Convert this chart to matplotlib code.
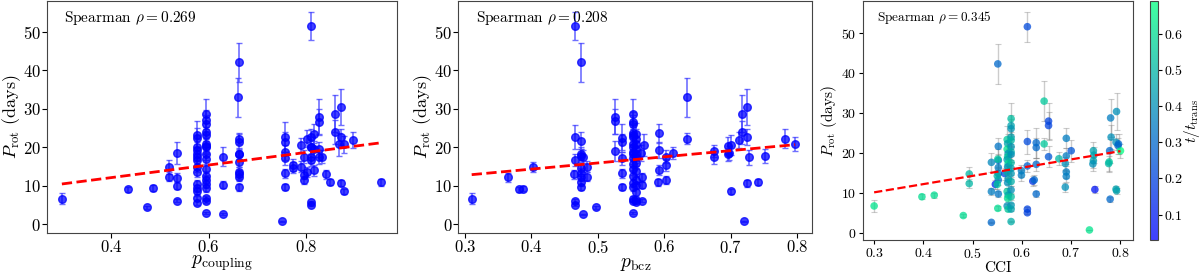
import numpy as np
import matplotlib
matplotlib.use("Agg")
import matplotlib.pyplot as plt

### Data ###
# panel 1: p_coupling vs P_rot
pc_x = [0.298, 0.434, 0.473, 0.486, 0.519, 0.519, 0.534, 0.534, 0.534, 0.534,
        0.577, 0.577, 0.577, 0.577, 0.577, 0.577, 0.577, 0.577, 0.577, 0.577, 0.577, 0.577, 0.577, 0.577,
        0.594, 0.594, 0.594, 0.594, 0.594, 0.594, 0.594, 0.594, 0.594, 0.594, 0.594, 0.594, 0.594, 0.594,
        0.594, 0.594, 0.594, 0.594,
        0.629, 0.629, 0.629, 0.661,
        0.663, 0.663, 0.663, 0.663, 0.663, 0.663, 0.663, 0.663, 0.663, 0.663,
        0.750, 0.758, 0.758, 0.758, 0.758, 0.758, 0.758,
        0.774, 0.774, 0.790, 0.790, 0.796, 0.796, 0.796, 0.802, 0.802,
        0.811, 0.811, 0.811, 0.811, 0.811, 0.811, 0.811, 0.811,
        0.817, 0.817, 0.817, 0.827, 0.827, 0.827, 0.827, 0.833,
        0.841, 0.850, 0.860, 0.860, 0.868, 0.873, 0.873, 0.873, 0.879, 0.879, 0.897, 0.954]
pc_y = [6.7, 9.1, 4.4, 9.4, 14.8, 12.4, 18.6, 12.1, 10.1, 6.2,
        23.3, 22.5, 20.2, 19.3, 18.3, 17.6, 16.7, 15.0, 13.5, 10.5, 9.4, 8.6, 6.9, 5.6,
        28.6, 27.0, 26.0, 24.0, 23.2, 20.8, 20.4, 20.2, 18.3, 16.9, 14.3, 12.7, 11.6, 10.5,
        9.4, 6.9, 6.0, 2.9,
        17.6, 10.3, 2.7, 33.0,
        42.1, 22.3, 21.4, 18.4, 18.2, 16.3, 13.7, 13.0, 12.4, 9.6,
        0.8, 22.7, 21.4, 18.7, 17.2, 13.3, 9.7,
        15.4, 14.7, 20.6, 15.0, 17.6, 12.9, 11.6, 22.3, 13.7,
        51.5, 22.7, 20.2, 20.0, 17.6, 16.8, 5.7, 5.1,
        23.6, 19.6, 14.0, 28.0, 26.6, 19.5, 17.5, 17.6,
        13.0, 11.0, 28.7, 24.0, 20.8, 30.4, 22.7, 10.7, 20.8, 8.6, 21.9, 10.9]
pc_err = [1.5, 0.6, 0.4, 0.8, 1.8, 1.2, 2.8, 1.2, 0.9, 0.5,
          3.5, 2.5, 2.0, 2.0, 1.8, 1.8, 1.6, 1.5, 1.3, 1.0, 0.9, 0.8, 0.6, 0.5,
          3.9, 2.7, 2.5, 2.3, 2.2, 2.0, 2.0, 1.9, 1.7, 1.6, 1.4, 1.2, 1.1, 1.0,
          0.9, 0.6, 0.5, 0.2,
          2.4, 0.9, 0.2, 5.0,
          5.0, 1.5, 2.2, 1.5, 1.5, 1.5, 1.3, 1.2, 1.1, 0.8,
          0.1, 3.8, 2.5, 2.0, 1.7, 1.2, 0.8,
          1.5, 1.4, 1.9, 1.5, 1.6, 1.2, 1.1, 2.3, 1.3,
          3.7, 2.2, 2.0, 2.0, 1.7, 1.6, 0.5, 0.4,
          2.4, 2.0, 1.3, 4.6, 3.3, 2.0, 1.7, 1.7,
          1.2, 0.8, 4.8, 3.0, 3.0, 4.7, 2.0, 0.8, 2.2, 0.6, 2.0, 0.8]
pc_fit = (16.3, 5.64)  # slope, intercept of dashed trend line

# panel 2: p_bcz vs P_rot
pb_x = [0.310, 0.365, 0.381, 0.388, 0.403, 0.464,
        0.466, 0.466, 0.466, 0.466, 0.466, 0.474,
        0.474, 0.474, 0.474, 0.474, 0.474, 0.474, 0.474, 0.474, 0.477,
        0.478, 0.483, 0.483, 0.497,
        0.526, 0.526, 0.526, 0.536, 0.536, 0.536, 0.536, 0.536,
        0.553, 0.553, 0.553, 0.553, 0.553, 0.553, 0.553, 0.553, 0.553, 0.553,
        0.553, 0.553, 0.553, 0.553, 0.553, 0.553, 0.553, 0.553, 0.553,
        0.558, 0.558, 0.558, 0.558, 0.558, 0.558, 0.558, 0.558, 0.558, 0.558,
        0.558, 0.558, 0.558,
        0.566, 0.566, 0.566, 0.565, 0.570,
        0.592, 0.592, 0.592, 0.591, 0.603, 0.603, 0.603, 0.613, 0.634, 0.634,
        0.675, 0.675, 0.696, 0.696, 0.700, 0.698, 0.701, 0.712, 0.717, 0.717,
        0.725, 0.725, 0.725, 0.727, 0.720, 0.741, 0.752, 0.782, 0.797]
pb_y = [6.7, 12.2, 9.1, 9.3, 14.8, 13.0,
        51.5, 22.7, 16.7, 6.0, 5.1, 42.1,
        21.7, 18.4, 17.8, 14.6, 13.3, 12.4, 11.1, 9.7, 2.6,
        17.6, 15.0, 12.4, 4.4,
        28.0, 26.8, 19.0, 22.5, 21.4, 17.2, 13.3, 9.7,
        28.6, 26.6, 26.0, 23.8, 23.2, 22.7, 21.0, 20.2, 18.9, 18.3,
        17.2, 15.6, 14.3, 12.7, 10.7, 9.7, 6.7, 6.2, 2.9,
        23.4, 22.3, 20.8, 19.7, 18.4, 17.6, 15.9, 13.9, 11.6, 10.2,
        8.3, 6.4, 5.7,
        6.2, 12.2, 10.3, 18.5, 20.6,
        23.7, 19.3, 14.2, 10.9, 17.6, 15.4, 11.6, 18.6, 33.0, 22.3,
        19.1, 17.4, 20.4, 18.2, 20.6, 18.6, 8.6, 21.9, 28.7, 23.9,
        30.4, 22.7, 10.7, 17.4, 0.8, 11.0, 17.8, 22.3, 20.8]
pb_err = [1.5, 1.2, 0.6, 0.6, 1.3, 1.2,
          3.7, 3.0, 1.6, 0.5, 0.4, 5.0,
          2.2, 1.7, 1.7, 1.4, 1.3, 1.2, 1.0, 0.8, 0.2,
          1.7, 1.5, 1.1, 0.4,
          4.6, 3.3, 2.6, 3.6, 2.2, 1.7, 1.2, 0.8,
          3.9, 2.7, 2.5, 2.3, 2.2, 2.0, 2.0, 1.9, 1.8, 1.7,
          1.6, 1.5, 1.4, 1.2, 1.0, 0.9, 0.6, 0.5, 0.2,
          3.0, 2.4, 2.0, 1.9, 1.8, 1.7, 1.5, 1.3, 1.1, 0.9,
          0.8, 0.5, 0.5,
          0.5, 1.2, 0.9, 2.0, 2.8,
          2.5, 2.0, 1.3, 0.8, 1.7, 1.5, 1.1, 1.6, 5.0, 1.5,
          1.6, 1.6, 2.2, 1.7, 2.6, 1.8, 0.7, 2.0, 4.8, 3.0,
          4.7, 2.0, 0.9, 2.0, 0.1, 0.8, 1.8, 2.4, 1.8]
pb_fit = (16.0, 7.96)

# panel 3: CCI vs P_rot, coloured by t/t_trans
cc_x = [0.300, 0.397, 0.422, 0.481, 0.493, 0.493,
        0.538, 0.538, 0.538, 0.546, 0.551,
        0.552, 0.552, 0.552, 0.552, 0.552, 0.552,
        0.551, 0.550, 0.550, 0.551, 0.565,
        0.570, 0.571, 0.570, 0.572, 0.571, 0.570, 0.572, 0.571, 0.570, 0.572,
        0.571, 0.570, 0.572, 0.571, 0.570, 0.572,
        0.578, 0.578, 0.578, 0.578, 0.578, 0.578, 0.578, 0.578, 0.578, 0.578,
        0.578, 0.578, 0.578, 0.578, 0.578, 0.578, 0.578,
        0.599, 0.599, 0.611, 0.611, 0.611, 0.611, 0.611, 0.622, 0.625,
        0.629, 0.629, 0.629, 0.629, 0.645, 0.645, 0.654, 0.654, 0.654,
        0.675, 0.690, 0.690, 0.688, 0.690, 0.690, 0.688, 0.700,
        0.737, 0.748, 0.745, 0.746, 0.745, 0.744,
        0.780, 0.781, 0.778, 0.777, 0.776, 0.779,
        0.792, 0.791, 0.795, 0.800, 0.791, 0.792, 0.796]
cc_y = [6.8, 9.1, 9.5, 4.4, 14.8, 12.4,
        17.7, 10.4, 2.7, 12.2, 42.3,
        21.7, 18.2, 16.4, 14.9, 13.3, 9.8,
        18.5, 14.3, 12.2, 6.2, 14.9,
        23.4, 22.4, 21.0, 19.9, 19.1, 18.4, 17.4, 16.6, 15.3, 13.5,
        12.6, 10.4, 9.5, 8.7, 6.8, 6.0,
        28.6, 26.9, 26.1, 24.0, 23.2, 21.6, 20.3, 19.7, 17.6, 16.2,
        14.9, 12.9, 10.8, 9.1, 7.0, 6.0, 2.9,
        15.6, 14.5, 51.6, 22.9, 16.8, 6.0, 5.1, 13.0, 13.3,
        22.6, 21.4, 17.2, 9.8, 33.0, 22.3, 28.0, 26.9, 19.1,
        18.6, 23.7, 19.3, 17.4, 15.3, 14.2, 11.5, 20.6,
        0.8, 10.9, 20.6, 19.5, 18.1, 17.3,
        28.8, 24.0, 20.6, 17.8, 17.4, 8.5,
        30.4, 22.7, 21.9, 20.6, 11.0, 10.6, 22.3]
cc_err = [1.5, 0.6, 0.6, 0.4, 1.8, 1.2,
          2.4, 0.9, 0.2, 1.2, 5.0,
          2.2, 1.7, 1.6, 1.5, 1.3, 0.8,
          2.6, 1.4, 1.1, 0.5, 1.5,
          3.5, 2.5, 2.0, 2.0, 1.9, 1.8, 1.7, 1.6, 1.5, 1.3,
          1.2, 1.0, 0.9, 0.8, 0.6, 0.5,
          3.9, 2.7, 2.5, 2.3, 2.2, 2.0, 2.0, 1.9, 1.7, 1.6,
          1.4, 1.2, 1.0, 0.9, 0.6, 0.5, 0.2,
          1.5, 1.4, 3.7, 3.0, 1.6, 0.5, 0.4, 1.2, 1.2,
          3.8, 2.5, 1.7, 0.8, 5.0, 1.5, 4.6, 3.3, 2.6,
          1.6, 2.5, 2.0, 1.7, 1.5, 1.3, 1.1, 2.8,
          0.1, 0.8, 2.2, 2.0, 1.8, 1.7,
          4.8, 3.0, 3.0, 2.2, 2.0, 0.6,
          4.7, 2.0, 2.0, 1.8, 0.8, 0.8, 2.4]
cc_t = [0.62, 0.60, 0.60, 0.60, 0.50, 0.50,
        0.38, 0.35, 0.30, 0.12, 0.30,
        0.33, 0.30, 0.35, 0.35, 0.33, 0.33,
        0.55, 0.50, 0.55, 0.60, 0.22,
        0.55, 0.45, 0.60, 0.40, 0.55, 0.45, 0.60, 0.40, 0.50, 0.45,
        0.40, 0.55, 0.45, 0.60, 0.40, 0.55,
        0.52, 0.45, 0.42, 0.45, 0.50, 0.42, 0.48, 0.40, 0.50, 0.45,
        0.42, 0.48, 0.40, 0.52, 0.42, 0.45, 0.48,
        0.35, 0.35, 0.22, 0.22, 0.28, 0.20, 0.20, 0.15, 0.30,
        0.30, 0.30, 0.30, 0.30, 0.55, 0.55, 0.20, 0.20, 0.25,
        0.50, 0.35, 0.35, 0.40, 0.35, 0.35, 0.40, 0.25,
        0.62, 0.08, 0.45, 0.45, 0.45, 0.40,
        0.35, 0.40, 0.30, 0.55, 0.50, 0.30,
        0.40, 0.40, 0.30, 0.68, 0.45, 0.45, 0.30]
cc_fit = (20.6, 4.02)
rho_labels = ["0.269", "0.208", "0.345"]

### Style ###
plt.rcParams['font.family'] = 'serif'
plt.rcParams['font.serif'] = ['cmr10', 'DejaVu Serif']
plt.rcParams['mathtext.fontset'] = 'cm'
plt.rcParams['axes.formatter.use_mathtext'] = True
plt.rcParams['axes.unicode_minus'] = False

fig = plt.figure(figsize=(12, 2.73), dpi=100)
ax1 = fig.add_axes([0.039, 0.147, 0.292, 0.849])
ax2 = fig.add_axes([0.382, 0.147, 0.295, 0.849])
ax3 = fig.add_axes([0.719, 0.121, 0.225, 0.875])
cax = fig.add_axes([0.958, 0.121, 0.007, 0.875])

def draw_fit(ax, x, fit, lw):
    xs = np.array([min(x), max(x)])
    ax.plot(xs, fit[0] * xs + fit[1], '--', color='red', lw=lw, zorder=5)

for ax, x, y, e, fit, lab, rho in [(ax1, pc_x, pc_y, pc_err, pc_fit, r'$p_{\rm coupling}$', rho_labels[0]),
                                   (ax2, pb_x, pb_y, pb_err, pb_fit, r'$p_{\rm bcz}$', rho_labels[1])]:
    ax.errorbar(x, y, yerr=e, fmt='o', color='blue', ms=5.5, alpha=0.75,
                ecolor=(0.25, 0.25, 1.0, 0.6), elinewidth=1.2, capsize=2.5, capthick=1)
    draw_fit(ax, x, fit, 2)
    ax.set_xlabel(lab, fontsize=14, labelpad=-1)
    ax.set_ylabel(r'$P_{\rm rot}$ (days)', fontsize=13, labelpad=0)
    ax.tick_params(labelsize=12, length=3.5, pad=1)
    ax.text(0.05, 0.925, r'Spearman $\rho = ' + rho + '$', transform=ax.transAxes,
            fontsize=11, ha='left', va='center')
    ax.set_yticks([0, 10, 20, 30, 40, 50])
    ax.set_ylim(-2.2, 58)

ax1.set_xticks([0.4, 0.6, 0.8])
ax1.set_xlim(0.267, 0.988)
ax2.set_xticks([0.3, 0.4, 0.5, 0.6, 0.7, 0.8])
ax2.set_xlim(0.29, 0.823)

ax3.errorbar(cc_x, cc_y, yerr=cc_err, fmt='none', ecolor='gray', alpha=0.4,
             elinewidth=1, capsize=2, capthick=0.8, zorder=1)
sc = ax3.scatter(cc_x, cc_y, c=cc_t, cmap='winter', vmin=0.03, vmax=0.69,
                 s=30, alpha=0.75, edgecolors='none', zorder=3)
draw_fit(ax3, cc_x, cc_fit, 1.6)
ax3.set_xlabel('CCI', fontsize=11, labelpad=0)
ax3.set_ylabel(r'$P_{\rm rot}$ (days)', fontsize=11, labelpad=1)
ax3.tick_params(labelsize=10, length=3, pad=2)
ax3.text(0.052, 0.93, r'Spearman $\rho = ' + rho_labels[2] + '$', transform=ax3.transAxes,
         fontsize=9.5, ha='left', va='center')
ax3.set_xticks([0.3, 0.4, 0.5, 0.6, 0.7, 0.8])
ax3.set_xlim(0.277, 0.825)
ax3.set_yticks([0, 10, 20, 30, 40, 50])
ax3.set_ylim(-1.7, 58)

cb = fig.colorbar(sc, cax=cax)
cb.solids.set_alpha(0.75)
cb.set_ticks([0.1, 0.2, 0.3, 0.4, 0.5, 0.6])
cb.ax.tick_params(labelsize=10, length=3, pad=1.5)
cb.set_label(r'$t/t_{\rm trans}$', fontsize=11, labelpad=-1)

for a in (ax1, ax2, ax3, cax):
    for s in a.spines.values():
        s.set_color('#444444')

fig.savefig('out.png', dpi=100)
